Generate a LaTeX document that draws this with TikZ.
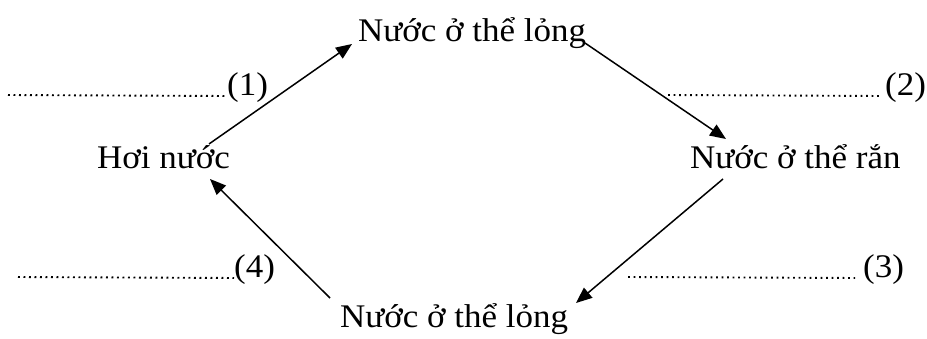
\documentclass[tikz,border=0pt]{standalone}
\usepackage{fontspec}
\setmainfont[FakeStretch=1.06]{Liberation Serif}
\usetikzlibrary{arrows.meta}
\begin{document}
\begin{tikzpicture}[x=1pt,y=-1pt,
  lbl/.style={inner sep=0pt,anchor=base west,font=\fontsize{33}{36}\selectfont},
  num/.style={inner sep=0pt,anchor=base west,font=\fontsize{33}{36}\selectfont},
  arr/.style={line width=1.5pt,-{Triangle[length=16pt,width=13pt]}},
  blankline/.style={line width=1.9pt,dash pattern=on 1.9pt off 3.6pt}]
\useasboundingbox (0,0) rectangle (927,339);
% state labels
\node[lbl] (top) at (358,42) {Nước ở thể lỏng};
\node[lbl] (hoi) at (97,169) {Hơi nước};
\node[lbl] (ran) at (690,169) {Nước ở thể rắn};
\node[lbl] (bot) at (340,327) {Nước ở thể lỏng};
% numbered blanks
\node[num] (n1) at (227,96) {(1)};
\node[num] (n2) at (885,96) {(2)};
\node[num] (n4) at (234,278) {(4)};
\node[num] (n3) at (863,278) {(3)};
\coordinate (d1) at (8,95);
\coordinate (d2) at (668,95);
\coordinate (d4) at (18,277);
\coordinate (d3) at (628,277);
\draw[blankline] (d1) -- (n1.base west);
\draw[blankline] (d2) -- ([xshift=-3pt]n2.base west);
\draw[blankline] (d4) -- (n4.base west);
\draw[blankline] (d3) -- ([xshift=-8pt]n3.base west);
% arrow ends
\coordinate (a1s) at (209,144);
\coordinate (a1e) at (352,44);
\coordinate (a2s) at (585,43);
\coordinate (a2e) at (726,139);
\coordinate (a3s) at (723,179);
\coordinate (a3e) at (576,303);
\coordinate (a4s) at (330,298);
\coordinate (a4e) at (210,179);
\draw[arr] (a1s) -- (a1e);
\draw[arr] (a2s) -- (a2e);
\draw[arr] (a3s) -- (a3e);
\draw[arr] (a4s) -- (a4e);
\end{tikzpicture}
\end{document}
